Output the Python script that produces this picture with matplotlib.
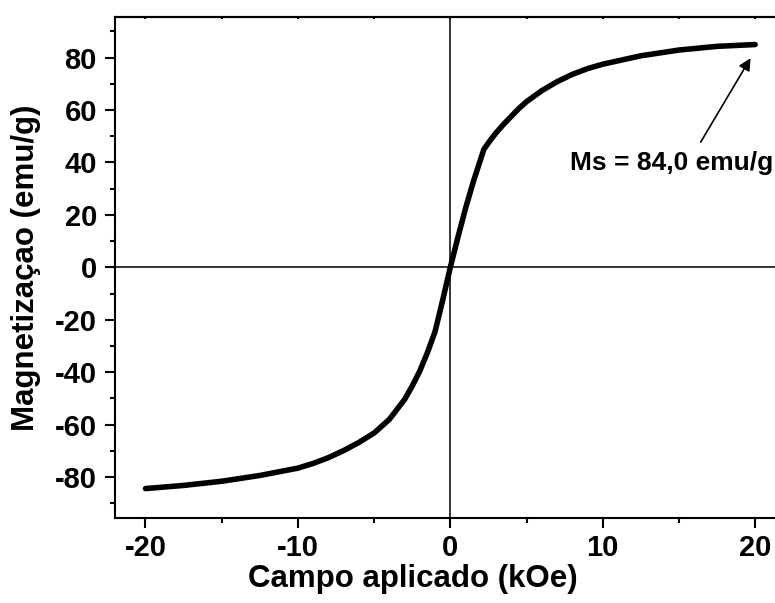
import numpy as np
import matplotlib
matplotlib.use("Agg")
import matplotlib.pyplot as plt
from matplotlib.ticker import MultipleLocator

plt.rcParams['font.family'] = ['Liberation Sans', 'DejaVu Sans']
plt.rcParams['font.weight'] = 'bold'
plt.rcParams['axes.unicode_minus'] = False

# applied field (kOe) and magnetization (emu/g)
campo = [-20, -17.5, -15, -12.5, -10, -9, -8, -7, -6, -5, -4, -3,
         -2.5, -2, -1.5, -1, -0.5, 0, 0.5, 1, 1.5, 2.2, 2.6, 3, 3.5, 4, 4.5, 5, 6, 7, 8,
         9, 10, 12.5, 15, 17.5, 20]
magnet = [-84.4, -83.2, -81.6, -79.4, -76.6, -74.8, -72.6, -69.9, -66.8, -63.2, -58.0, -50.4,
          -45.3, -39.5, -32.5, -24.5, -12.5, 0, 11.5, 22.5, 32.5, 45.0, 48.3, 51.3, 54.6, 57.6, 60.6, 63.2, 67.4, 70.8, 73.6,
          75.8, 77.5, 80.7, 82.9, 84.3, 85.0]

xticks = [-20, -10, 0, 10, 20]
yticks = [-80, -60, -40, -20, 0, 20, 40, 60, 80]

fig = plt.figure(figsize=(7.75, 6.03), dpi=100)
ax = fig.add_axes([0.1484, 0.1415, 0.8653, 0.8303])

ax.axhline(0, color='black', lw=1.1, zorder=1)
ax.axvline(0, color='black', lw=1.1, zorder=1)
ax.plot(campo, magnet, color='black', lw=4, solid_capstyle='round',
        solid_joinstyle='round', zorder=3)

ax.set_xlim(-22, 22)
ax.set_ylim(-95.5, 95.5)
ax.set_xticks(xticks)
ax.set_yticks(yticks)
ax.xaxis.set_minor_locator(MultipleLocator(5))
ax.yaxis.set_minor_locator(MultipleLocator(10))

for s in ['left', 'bottom', 'top']:
    ax.spines[s].set_linewidth(1.5)
ax.spines['right'].set_visible(False)

ax.tick_params(axis='both', which='major', direction='out', length=7, width=1.5,
               labelsize=21, pad=5)
ax.tick_params(axis='y', which='major', pad=6)
ax.tick_params(axis='both', which='minor', direction='out', length=3.6, width=1.5)

# tiny inward ticks on the top frame
top = ax.secondary_xaxis('top')
top.set_xticks(xticks)
top.xaxis.set_minor_locator(MultipleLocator(5))
top.tick_params(which='both', direction='in', length=1.5, width=1.5, labeltop=False)
top.spines['top'].set_linewidth(1.5)

ax.set_xlabel("Campo aplicado (kOe)", fontsize=22.5, fontweight='bold')
ax.xaxis.set_label_coords(0.4436, -0.092)
ax.set_ylabel("Magnetizaçao (emu/g)", fontsize=22.5, fontweight='bold', labelpad=10)

ax.annotate("Ms = 84,0 emu/g", xy=(19.7, 79.8), xytext=(7.85, 39.7),
            fontsize=19, fontweight='bold', ha='left', va='center',
            annotation_clip=False)
ax.annotate("", xy=(19.7, 79.8), xytext=(16.43, 47.8),
            arrowprops=dict(arrowstyle='-|>', color='black', lw=1.2,
                            mutation_scale=18, shrinkA=0, shrinkB=0))

fig.savefig("out.png", dpi=100)
